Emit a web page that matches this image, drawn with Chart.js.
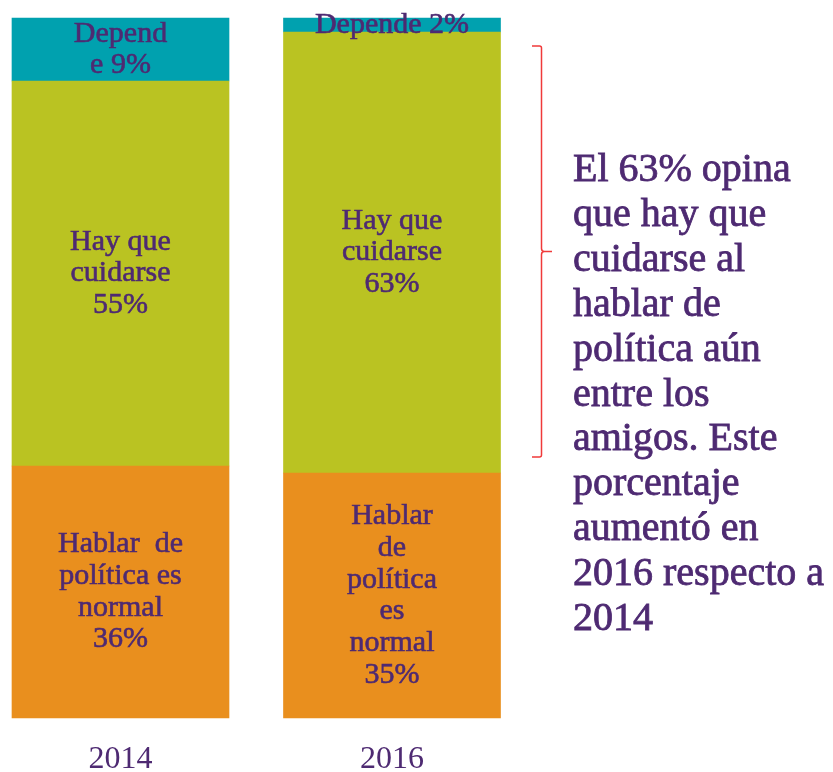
<!DOCTYPE html>
<html>
<head>
<meta charset="utf-8">
<script src="https://cdn.jsdelivr.net/npm/chart.js@4/dist/chart.umd.min.js"></script>
<style>
    html, body { margin: 0; padding: 0; background: #ffffff; }
    .wrap { position: relative; width: 833px; height: 772px; }
</style>
</head>
<body>
<div class="wrap"><canvas id="chart"></canvas></div>
<script>
const years = ["2014", "2016"];
const normal = [36, 35];
const cuidarse = [55, 63];
const depende = [9, 2];

const normalLabels = [["Hablar  de", "política es", "normal", "36%"], ["Hablar", "de", "política", "es", "normal", "35%"]];
const cuidarseLabels = [["Hay que", "cuidarse", "55%"], ["Hay que", "cuidarse", "63%"]];
const dependeLabels = [["Depend", "e 9%"], ["Depende 2%"]];

const noteLines = ["El 63% opina", "que hay que", "cuidarse al", "hablar de", "política aún", "entre los", "amigos. Este", "porcentaje", "aumentó en", "2016 respecto a", "2014"];

const purple = "#4E2A72";
const serif = "'Liberation Serif', 'Times New Roman', serif";

// fill + thin stroke so the serif looks a bit heavier, like the original
function heavyText(ctx, text, x, y, w) {
    ctx.fillText(text, x, y);
    ctx.lineWidth = w;
    ctx.strokeText(text, x, y);
}

// writes the multi-line text in the middle of each segment
const segmentLabels = {
    id: "segmentLabels",
    afterDatasetsDraw(chart) {
        const ctx = chart.ctx;
        const allLabels = [normalLabels, cuidarseLabels, dependeLabels];
        ctx.save();
        ctx.fillStyle = purple;
        ctx.strokeStyle = purple;
        ctx.font = "30px " + serif;
        ctx.textAlign = "center";
        ctx.textBaseline = "middle";
        chart.data.datasets.forEach((ds, d) => {
            const meta = chart.getDatasetMeta(d);
            meta.data.forEach((bar, i) => {
                const lines = allLabels[d][i];
                const lh = 31.7;
                const mid = (bar.y + bar.base) / 2;
                const start = mid - (lines.length - 1) * lh / 2;
                lines.forEach((line, k) => heavyText(ctx, line, bar.x, start + k * lh, 0.6));
            });
        });
        ctx.restore();
    }
};

// red bracket and the comment on the right
const sideNote = {
    id: "sideNote",
    afterDraw(chart) {
        const ctx = chart.ctx;
        const y = chart.scales.y;
        const top = y.getPixelForValue(98) + 14;
        const bottom = y.getPixelForValue(35) - 16;
        const mid = (top + bottom) / 2;
        const bx = 541.5;
        ctx.save();
        ctx.strokeStyle = "#F03A3A";
        ctx.lineWidth = 1.5;
        ctx.beginPath();
        ctx.moveTo(532, top);
        ctx.lineTo(bx - 2, top);
        ctx.quadraticCurveTo(bx, top, bx, top + 2);
        ctx.lineTo(bx, mid - 3);
        ctx.quadraticCurveTo(bx, mid, bx + 3, mid);
        ctx.lineTo(552, mid);
        ctx.moveTo(bx + 3, mid);
        ctx.quadraticCurveTo(bx, mid, bx, mid + 3);
        ctx.lineTo(bx, bottom - 2);
        ctx.quadraticCurveTo(bx, bottom, bx - 2, bottom);
        ctx.lineTo(532, bottom);
        ctx.stroke();

        ctx.fillStyle = purple;
        ctx.strokeStyle = purple;
        ctx.font = "40px " + serif;
        ctx.textAlign = "left";
        ctx.textBaseline = "alphabetic";
        noteLines.forEach((line, k) => heavyText(ctx, line, 573, 181 + k * 44.9, 0.8));
        ctx.restore();
    }
};

new Chart(document.getElementById("chart"), {
    type: "bar",
    data: {
        labels: years,
        datasets: [
            { label: "Hablar de política es normal", data: normal, backgroundColor: "#E98F1E" },
            { label: "Hay que cuidarse", data: cuidarse, backgroundColor: "#BAC322" },
            { label: "Depende", data: depende, backgroundColor: "#00A1AF" }
        ]
    },
    options: {
        responsive: true,
        maintainAspectRatio: false,
        animation: false,
        datasets: {
            bar: { barThickness: 217, clip: false, borderWidth: 0 }
        },
        layout: {
            padding: { left: 120.5, right: 441, top: 18, bottom: 0 }
        },
        scales: {
            x: {
                stacked: true,
                offset: false,
                grid: { display: false },
                border: { display: false },
                afterFit(scale) { scale.height = 54; },
                ticks: {
                    color: purple,
                    padding: 14,
                    maxRotation: 0,
                    font: { family: serif, size: 32 }
                }
            },
            y: {
                stacked: true,
                display: false,
                min: 0,
                max: 100
            }
        },
        plugins: {
            legend: { display: false },
            tooltip: { enabled: false }
        }
    },
    plugins: [segmentLabels, sideNote]
});
</script>
</body>
</html>
